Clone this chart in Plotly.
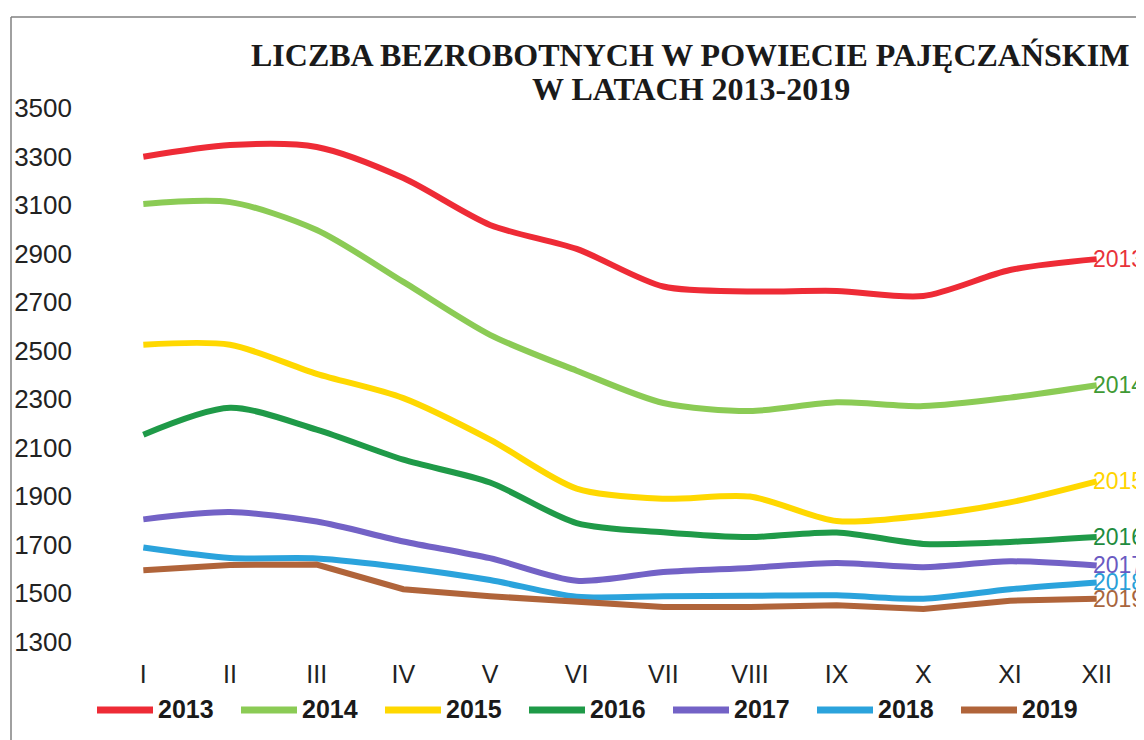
import plotly.graph_objects as go

months = ["I", "II", "III", "IV", "V", "VI", "VII", "VIII", "IX", "X", "XI", "XII"]
years = ["2013", "2014", "2015", "2016", "2017", "2018", "2019"]

v2013 = [3300, 3348, 3340, 3212, 3019, 2920, 2765, 2745, 2747, 2726, 2833, 2878]
v2014 = [3105, 3113, 2998, 2784, 2566, 2418, 2285, 2252, 2288, 2272, 2307, 2358]
v2015 = [2525, 2525, 2405, 2305, 2134, 1932, 1890, 1899, 1798, 1820, 1875, 1962]
v2016 = [2154, 2265, 2175, 2051, 1957, 1790, 1752, 1732, 1751, 1704, 1712, 1732]
v2017 = [1805, 1835, 1796, 1714, 1645, 1552, 1588, 1605, 1625, 1608, 1632, 1615]
v2018 = [1689, 1646, 1644, 1607, 1555, 1486, 1488, 1490, 1492, 1478, 1517, 1545]
v2019 = [1595, 1617, 1619, 1517, 1488, 1463, 1444, 1444, 1451, 1436, 1470, 1478]

series = [v2013, v2014, v2015, v2016, v2017, v2018, v2019]
line_colors = ["#ee2b36", "#8bcb55", "#ffd800", "#1f9a48", "#7362c6", "#2ba3dc", "#b0643a"]
label_colors = ["#e8323a", "#3f9a35", "#ffd400", "#1e8c40", "#6a5ac2", "#2a9fd8", "#a8653e"]
shapes_line = ["spline", "spline", "spline", "spline", "spline", "spline", "linear"]

# the page body adds an 8px offset; the figure is sized so it ends at the window edge
OFF = 8
W, H = 1144 - OFF, 740 - OFF
L, R, T, B = 92, 4, 76, 86
PW, PH = W - L - R, H - T - B


def px_x(px):
    return (px - OFF - L) / PW


def px_y(py):
    return (H - B - (py - OFF)) / PH


fig = go.Figure()
for name, vals, col, shp in zip(years, series, line_colors, shapes_line):
    fig.add_trace(go.Scatter(
        x=months, y=vals, mode="lines", name=name, showlegend=False,
        line=dict(color=col, width=6, shape=shp, smoothing=0.8),
    ))

annotations = []
# end-of-line labels
for name, vals, col in zip(years, series, label_colors):
    annotations.append(dict(
        x=months[-1], y=vals[-1], xref="x", yref="y", text=name,
        showarrow=False, xanchor="left", yanchor="middle", xshift=-6,
        font=dict(family="Liberation Sans, Arial", size=23, color=col),
    ))

# title (two centred lines)
annotations.append(dict(
    x=px_x(690), y=px_y(55), xref="paper", yref="paper",
    text="<b>LICZBA BEZROBOTNYCH W POWIECIE PAJĘCZAŃSKIM</b>",
    showarrow=False, xanchor="center", yanchor="middle",
    font=dict(family="Liberation Serif, Times New Roman", size=32, color="#1a1a1a"),
))
annotations.append(dict(
    x=px_x(691), y=px_y(89), xref="paper", yref="paper",
    text="<b>W LATACH 2013-2019</b>",
    showarrow=False, xanchor="center", yanchor="middle",
    font=dict(family="Liberation Serif, Times New Roman", size=32, color="#1a1a1a"),
))

shapes = [
    dict(type="line", xref="paper", yref="paper", x0=px_x(11), x1=px_x(1144), y0=px_y(17), y1=px_y(17),
         line=dict(color="#808080", width=1.5)),
    dict(type="line", xref="paper", yref="paper", x0=px_x(11), x1=px_x(11), y0=px_y(740), y1=px_y(17),
         line=dict(color="#808080", width=1.5)),
]

# manual legend
for i, (name, col) in enumerate(zip(years, line_colors)):
    x0 = 97 + i * 144
    shapes.append(dict(type="line", xref="paper", yref="paper",
                       x0=px_x(x0), x1=px_x(x0 + 56), y0=px_y(710), y1=px_y(710),
                       line=dict(color=col, width=7)))
    annotations.append(dict(
        x=px_x(x0 + 59), y=px_y(709), xref="paper", yref="paper", text="<b>" + name + "</b>",
        showarrow=False, xanchor="left", yanchor="middle",
        font=dict(family="Liberation Sans, Arial", size=25, color="#1a1a1a"),
    ))

fig.update_layout(
    width=W, height=H,
    paper_bgcolor="white", plot_bgcolor="white",
    margin=dict(l=L, r=R, t=T, b=B, autoexpand=False),
    showlegend=False,
    xaxis=dict(
        type="category", range=[-0.5, 11.5], showgrid=False, zeroline=False,
        showline=False, ticks="", ticklabelstandoff=3,
        tickfont=dict(family="Liberation Sans, Arial", size=25, color="#222222"),
    ),
    yaxis=dict(
        range=[1250, 3600], tickvals=[1300, 1500, 1700, 1900, 2100, 2300, 2500, 2700, 2900, 3100, 3300, 3500],
        showgrid=False, zeroline=False, showline=False, ticks="",
        ticklabelstandoff=27,
        tickfont=dict(family="Liberation Sans, Arial", size=26, color="#222222"),
    ),
    annotations=annotations,
    shapes=shapes,
)

fig.write_html("out.html")
